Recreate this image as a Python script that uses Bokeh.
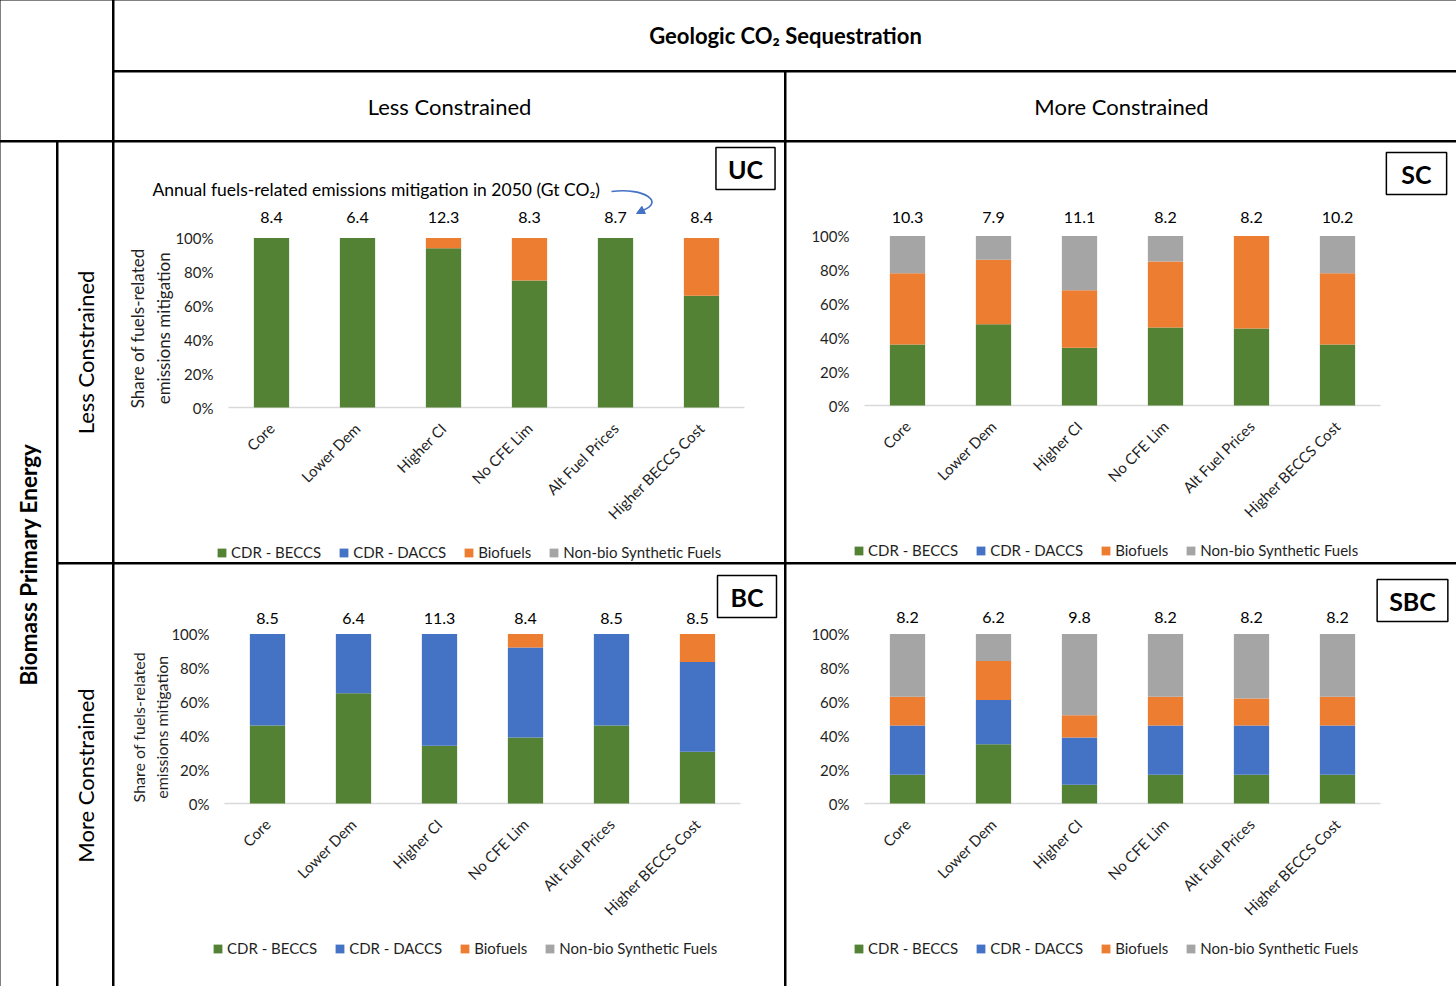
from math import pi
from bokeh.plotting import figure
from bokeh.layouts import row, column
from bokeh.models import (Range1d, ColumnDataSource, Legend, LegendItem, Label,
                          FixedTicker, NumeralTickFormatter, Arrow, NormalHead)
from bokeh.core.properties import value
from bokeh.embed import file_html
from bokeh.resources import INLINE

FONT = "Lato"
TXT = "#1f1f1f"

# ---------------- data ----------------
SCENARIOS = ["Core", "Lower Dem", "Higher CI", "No CFE Lim", "Alt Fuel Prices", "Higher BECCS Cost"]
SERIES = ["CDR - BECCS", "CDR - DACCS", "Biofuels", "Non-bio Synthetic Fuels"]
COLORS = ["#548235", "#4472C4", "#ED7D31", "#A5A5A5"]
Y_TICKS = [0, 0.2, 0.4, 0.6, 0.8, 1.0]

UC_TOTAL = [8.4, 6.4, 12.3, 8.3, 8.7, 8.4]
UC_BECCS = [1.00, 1.00, 0.94, 0.75, 1.00, 0.66]
UC_DACCS = [0, 0, 0, 0, 0, 0]
UC_BIO = [0, 0, 0.06, 0.25, 0, 0.34]
UC_NONBIO = [0, 0, 0, 0, 0, 0]

SC_TOTAL = [10.3, 7.9, 11.1, 8.2, 8.2, 10.2]
SC_BECCS = [0.36, 0.48, 0.34, 0.46, 0.455, 0.36]
SC_DACCS = [0, 0, 0, 0, 0, 0]
SC_BIO = [0.42, 0.38, 0.34, 0.39, 0.545, 0.42]
SC_NONBIO = [0.22, 0.14, 0.32, 0.15, 0, 0.22]

BC_TOTAL = [8.5, 6.4, 11.3, 8.4, 8.5, 8.5]
BC_BECCS = [0.46, 0.65, 0.34, 0.39, 0.46, 0.305]
BC_DACCS = [0.54, 0.35, 0.66, 0.53, 0.54, 0.53]
BC_BIO = [0, 0, 0, 0.08, 0, 0.165]
BC_NONBIO = [0, 0, 0, 0, 0, 0]

SBC_TOTAL = [8.2, 6.2, 9.8, 8.2, 8.2, 8.2]
SBC_BECCS = [0.17, 0.35, 0.11, 0.17, 0.17, 0.17]
SBC_DACCS = [0.29, 0.26, 0.28, 0.29, 0.29, 0.29]
SBC_BIO = [0.17, 0.23, 0.13, 0.17, 0.16, 0.17]
SBC_NONBIO = [0.37, 0.16, 0.48, 0.37, 0.38, 0.37]

PANELS = {
    "UC": dict(total=UC_TOTAL, parts=[UC_BECCS, UC_DACCS, UC_BIO, UC_NONBIO]),
    "SC": dict(total=SC_TOTAL, parts=[SC_BECCS, SC_DACCS, SC_BIO, SC_NONBIO]),
    "BC": dict(total=BC_TOTAL, parts=[BC_BECCS, BC_DACCS, BC_BIO, BC_NONBIO]),
    "SBC": dict(total=SBC_TOTAL, parts=[SBC_BECCS, SBC_DACCS, SBC_BIO, SBC_NONBIO]),
}

HEADER = "Geologic CO\u2082 Sequestration"
COL_HEADS = ["Less Constrained", "More Constrained"]
ROW_HEADS = ["Less Constrained", "More Constrained"]
ROW_GROUP = "Biomass Primary Energy"
Y_TITLE = "Share of fuels-related\nemissions mitigation"
NOTE = "Annual fuels-related emissions mitigation in 2050 (Gt CO\u2082)"

# ---------------- geometry / styles (pixels inside each panel) ----------------
PW = 670
FW = 516
UNIT_Y = 169.5
GEOM = {
    "UC": dict(h=420, fl=114, zero=265, label_dy=21, box=(631, 26), hpad=12,
               ytitle=(36, 0.467, "17px"), legend_dx=-12),
    "SC": dict(h=420, fl=78, zero=263, label_dy=19, box=(630, 31), hpad=15,
               ytitle=None, legend_dx=-11),
    "BC": dict(h=422, fl=110, zero=239, label_dy=16, box=(632.5, 32), hpad=13,
               ytitle=(35.5, 0.45, "16px"), legend_dx=-12),
    "SBC": dict(h=422, fl=78, zero=239, label_dy=17, box=(626, 36), hpad=12,
                ytitle=None, legend_dx=-11),
}
LEGEND_BELOW = 154
BLACK_BG = {"background-color": "black"}


def make_panel(key):
    g = GEOM[key]
    d = PANELS[key]
    ph, fl, zero = g["h"], g["fl"], g["zero"]
    n = len(SCENARIOS)
    unit_x = FW / n
    ux = lambda px: (px - fl) / unit_x
    uy = lambda py: (zero - py) / UNIT_Y

    p = figure(width=PW, height=ph, x_range=Range1d(ux(0), ux(PW)), y_range=Range1d(uy(ph), uy(0)),
               output_backend="svg", toolbar_location=None, min_border=0)
    p.outline_line_color = None
    p.xgrid.visible = False
    p.ygrid.visible = False

    xpos = [i + 0.5 for i in range(n)]
    keys = [f"s{i}" for i in range(len(SERIES))]
    data = dict(xpos=xpos, scenario=SCENARIOS, total=[f"{t:.1f}" for t in d["total"]],
                label_y=[1 + g["label_dy"] / UNIT_Y] * n)
    for k, vals in zip(keys, d["parts"]):
        data[k] = vals
    src = ColumnDataSource(data)

    # baseline of the category axis
    p.segment(x0=[0], y0=[0], x1=[n], y1=[0], line_color="#D9D9D9", line_width=1.3)
    rs = p.vbar_stack(keys, x="xpos", width=0.41, fill_color=COLORS, line_color=None, source=src)

    p.text(x="xpos", y="label_y", text="total", source=src, text_align="center",
           text_baseline="middle", text_font=value(FONT), text_font_size="16px", text_color="black")

    yax = p.yaxis[0]
    yax.fixed_location = 0
    yax.ticker = FixedTicker(ticks=Y_TICKS)
    yax.formatter = NumeralTickFormatter(format="0%")
    yax.axis_line_color = None
    yax.major_tick_line_color = None
    yax.minor_tick_line_color = None
    yax.major_tick_out = 0
    yax.major_tick_in = 0
    yax.major_label_standoff = 15
    yax.major_label_text_font = FONT
    yax.major_label_text_font_size = "15px"
    yax.major_label_text_color = TXT

    xax = p.xaxis[0]
    xax.fixed_location = 0
    xax.ticker = FixedTicker(ticks=xpos)
    xax.major_label_overrides = {x: s for x, s in zip(xpos, SCENARIOS)}
    xax.axis_line_color = None
    xax.major_tick_line_color = None
    xax.minor_tick_line_color = None
    xax.major_tick_out = 0
    xax.major_tick_in = 0
    xax.major_label_orientation = pi / 4
    xax.major_label_standoff = 18
    xax.major_label_text_font = FONT
    xax.major_label_text_font_size = "15px"
    xax.major_label_text_color = TXT

    items = [LegendItem(label=s, renderers=[r]) for s, r in zip(SERIES, rs)]
    leg = Legend(items=items, orientation="horizontal",
                 location=(fl + g["legend_dx"], ph - zero - LEGEND_BELOW),
                 glyph_width=11, glyph_height=11, label_standoff=4, spacing=17, padding=0, margin=0,
                 label_height=18, border_line_color=None, background_fill_alpha=0,
                 label_text_font=FONT, label_text_font_size="15px", label_text_color=TXT)
    p.add_layout(leg)

    bx, by = g["box"]
    p.add_layout(Label(x=ux(bx), y=uy(by), text=key, text_align="center", text_baseline="middle",
                       text_font=FONT, text_font_size="25px", text_font_style="bold", text_color="black",
                       border_line_color="black", border_line_width=1.5, background_fill_color="white",
                       padding=(g["hpad"], 6)))

    if g["ytitle"] is not None:
        tx, ty, tsize = g["ytitle"]
        p.add_layout(Label(x=ux(tx), y=ty, text=Y_TITLE, angle=pi / 2, text_align="center",
                           text_baseline="middle", text_font=FONT, text_font_size=tsize,
                           text_line_height=1.25, text_color=TXT))

    if key == "UC":
        p.add_layout(Label(x=ux(38), y=uy(47), text=NOTE, text_align="left", text_baseline="middle",
                           text_font=FONT, text_font_size="17.5px", text_color="black"))
        blue = "#4472C4"
        p.bezier(x0=[ux(497)], y0=[uy(49)], cx0=[ux(531)], cy0=[uy(45)], cx1=[ux(550)], cy1=[uy(60)],
                 x1=[ux(528)], y1=[uy(68)], line_color=blue, line_width=1.6)
        p.add_layout(Arrow(end=NormalHead(size=8, fill_color=blue, line_color=blue),
                           x_start=ux(528), y_start=uy(68), x_end=ux(522), y_end=uy(71),
                           line_color=blue, line_width=1.6))
    return p


def text_cell(w, h, txt=None, size="22px", bold=False, angle=0.0):
    p = figure(width=w, height=h, x_range=Range1d(0, 1), y_range=Range1d(0, 1),
               x_axis_type=None, y_axis_type=None, toolbar_location=None,
               output_backend="svg", min_border=0)
    p.outline_line_color = None
    if txt:
        p.text(x=[0.5], y=[0.5], text=[txt], angle=angle, text_align="center", text_baseline="middle",
               text_font=value(FONT), text_font_size=size,
               text_font_style="bold" if bold else "normal", text_color="black")
    return p


blank = text_cell(112, 140)
header = text_cell(1342, 70, HEADER, size="22px", bold=True)
sub_l = text_cell(670, 68, COL_HEADS[0], size="22px")
sub_r = text_cell(670, 68, COL_HEADS[1], size="22px")
top_right = column(header, row(sub_l, sub_r, spacing=2, styles=BLACK_BG), spacing=2, styles=BLACK_BG)
top_row = row(blank, top_right, spacing=2, styles=BLACK_BG)

biomass = text_cell(56, 844, ROW_GROUP, size="22.5px", bold=True, angle=pi / 2)
lc = text_cell(54, 420, ROW_HEADS[0], size="22px", angle=pi / 2)
mc = text_cell(54, 422, ROW_HEADS[1], size="22px", angle=pi / 2)
r1 = row(lc, make_panel("UC"), make_panel("SC"), spacing=2, styles=BLACK_BG)
r2 = row(mc, make_panel("BC"), make_panel("SBC"), spacing=2, styles=BLACK_BG)
right_bottom = column(r1, r2, spacing=2, styles=BLACK_BG)
bottom = row(biomass, right_bottom, spacing=2, styles=BLACK_BG)

root = column(top_row, bottom, spacing=2, styles={"background-color": "black"})

open("out.html", "w").write(file_html(root, INLINE))
